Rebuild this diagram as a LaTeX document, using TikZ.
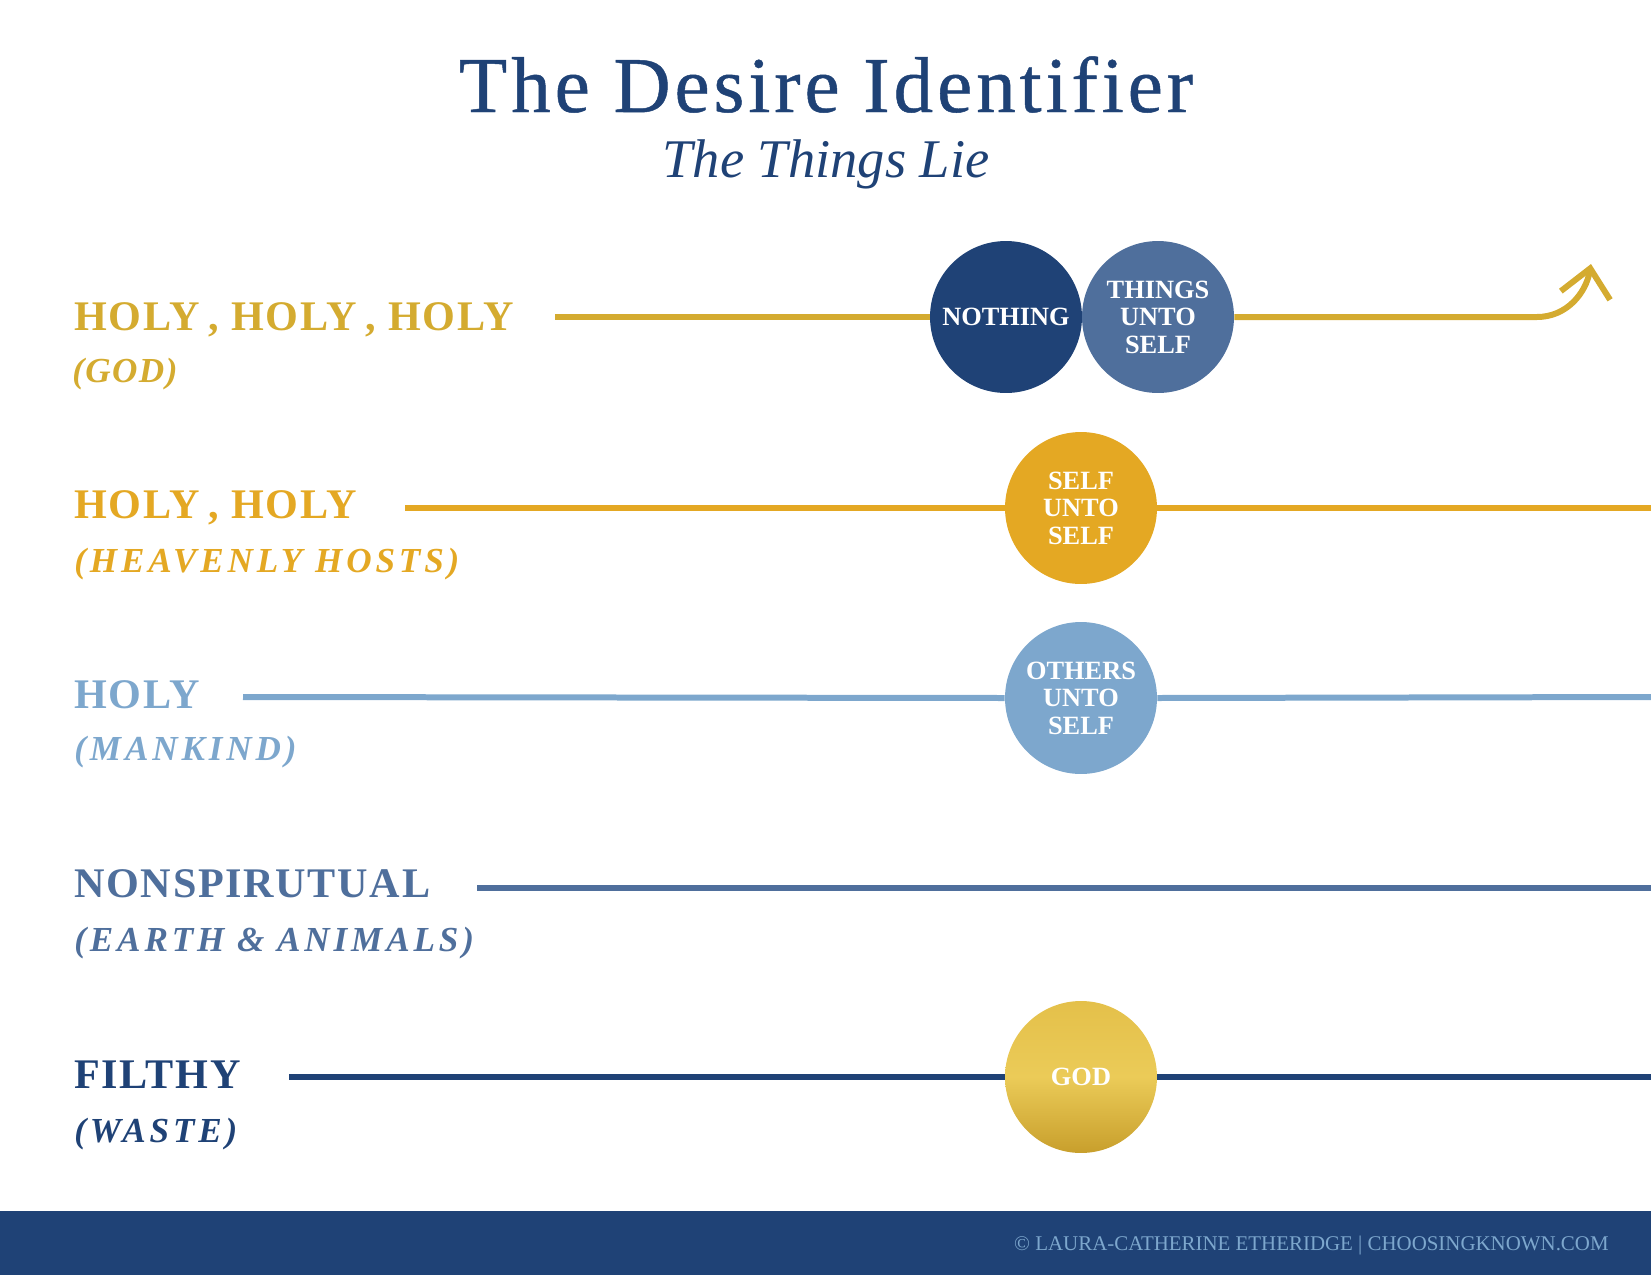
\documentclass[tikz,border=0pt]{standalone}
\usepackage{fontspec}
\setmainfont{Liberation Serif}
\newfontfamily\spacedfont[LetterSpace=4]{Liberation Serif}
\newfontfamily\widefont[LetterSpace=11]{Liberation Serif}
\newfontfamily\titlefont[LetterSpace=5,FakeBold=0.6]{Liberation Serif}
\usetikzlibrary{positioning,calc,arrows.meta}

\definecolor{navy}{HTML}{1F4276}
\definecolor{steel}{HTML}{4F6F9C}
\definecolor{sky}{HTML}{7DA7CD}
\definecolor{amber}{HTML}{E4A823}
\definecolor{gilt}{HTML}{D4AB30}
\definecolor{giltlight}{HTML}{EBCB58}
\definecolor{gilttop}{HTML}{E4C04A}
\definecolor{giltdark}{HTML}{C89F2C}

\newcommand{\cgap}{\hspace{5pt}}

\begin{document}
\begin{tikzpicture}[
  x=0.02cm, y=-0.02cm,
  level/.style={font=\spacedfont\bfseries\fontsize{24}{24}\selectfont, anchor=base west, inner sep=0},
  realm/.style={font=\widefont\bfseries\itshape\fontsize{20}{20}\selectfont, anchor=base west, inner sep=0},
  rail/.style={line width=0.12cm},
  disc/.style={circle, minimum size=3.04cm, inner sep=0, text=white, align=center, font=\bfseries\fontsize{15}{15.6}\selectfont},
]
\useasboundingbox (0,0) rectangle (1651,1275);

% === Title ===
\node[anchor=base, inner sep=0, text=navy, font=\titlefont\fontsize{45}{45}\selectfont] (title) at (826,112) {The Desire Identifier};
\node[anchor=base, inner sep=0, text=navy, font=\itshape\fontsize{31}{31}\selectfont] (subtitle) at (826,177) {The Things Lie};

% === Levels ===
\node[level, text=gilt] (h1) at (74,330) {HOLY\cgap, HOLY\cgap, HOLY};
\node[realm, text=gilt, font=\spacedfont\bfseries\itshape\fontsize{20}{20}\selectfont] (g1) at (72,382) {(GOD)};
\node[level, text=amber] (h2) at (74,518) {HOLY\cgap, HOLY};
\node[realm, text=amber] (g2) at (74,572) {(HEAVENLY HOSTS)};
\node[level, text=sky] (h3) at (74,708) {HOLY};
\node[realm, text=sky] (g3) at (74,760) {(MANKIND)};
\node[level, text=steel] (h4) at (74,897) {NONSPIRUTUAL};
\node[realm, text=steel] (g4) at (74,951) {(EARTH \& ANIMALS)};
\node[level, text=navy] (h5) at (74,1088) {FILTHY};
\node[realm, text=navy] (g5) at (74,1142) {(WASTE)};

% === Circles ===
\node[disc, fill=navy] (nothing) at (1006,317) {NOTHING};
\node[disc, fill=steel] (things) at (1158,317) {THINGS\\UNTO\\SELF};
\node[disc, fill=amber] (selfself) at (1081,508) {SELF\\UNTO\\SELF};
\node[disc, fill=sky] (others) at (1081,698) {OTHERS\\UNTO\\SELF};
\node[disc, top color=gilttop, bottom color=giltdark, middle color=giltlight] (god) at (1081,1077) {GOD};

% === Rails ===
\coordinate (s1) at (555,317);
\coordinate (bend) at (1537,317);
\coordinate (tip) at (1591,264);
\coordinate (s2) at (405,508);
\coordinate (e2) at (1651,508);
\coordinate (s3) at (243,697);
\coordinate (e3) at (1651,697);
\coordinate (s4) at (477,888);
\coordinate (e4) at (1651,888);
\coordinate (s5) at (289,1077);
\coordinate (e5) at (1651,1077);

\draw[rail, gilt] (s1) -- (nothing.west);
\draw[rail, gilt, -{Straight Barb[length=0.55cm, width=1cm]}] (things.east) -- (bend) to[out=0, in=260] (tip);
\draw[rail, amber] (s2) -- (selfself.west);
\draw[rail, amber] (selfself.east) -- (e2);
\draw[rail, sky] (s3) -- (others.west);
\draw[rail, sky] (others.east) -- (e3);
\draw[rail, steel] (s4) -- (e4);
\draw[rail, navy] (s5) -- (god.west);
\draw[rail, navy] (god.east) -- (e5);

% === Footer ===
\fill[navy] (0,1211) rectangle (1651,1275);
\node[anchor=base east, inner sep=0, text=sky, font=\fontsize{11.9}{11.9}\selectfont] (credit) at (1609,1250) {\textcopyright{} LAURA-CATHERINE ETHERIDGE | CHOOSINGKNOWN.COM};

\end{tikzpicture}
\end{document}
